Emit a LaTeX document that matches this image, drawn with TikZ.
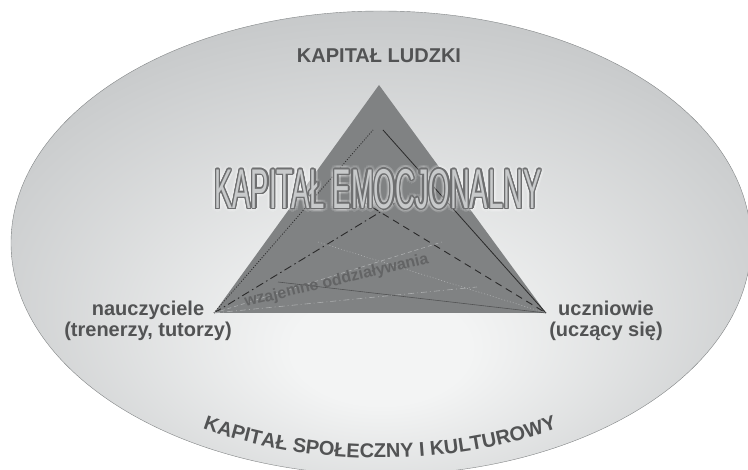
\documentclass[tikz,border=0pt]{standalone}
\usepackage{fontspec}
\setmainfont{Liberation Sans}
\usetikzlibrary{decorations.text}

\definecolor{okraj}{RGB}{163,166,168}
\definecolor{stred}{RGB}{243,244,244}
\definecolor{trojuh}{RGB}{128,130,131}
\definecolor{popis}{RGB}{82,83,84}
\definecolor{cara}{RGB}{42,42,42}
\definecolor{svetla}{RGB}{172,174,175}
\definecolor{nadpis}{RGB}{200,202,203}
\definecolor{obrys}{RGB}{110,111,112}

% světlo uprostřed elipsy
\pgfdeclareradialshading{zare}{\pgfpoint{0bp}{-13bp}}{color(0bp)=(stred); color(6bp)=(stred); color(50bp)=(okraj)}

\newcommand{\emotext}{\scalebox{0.49}[1]{KAPITAŁ EMOCJONALNY}}

\begin{document}
\begin{tikzpicture}[x=1pt, y=-1pt,
    popisek/.style={font=\bfseries\fontsize{20}{21}\selectfont, text=popis, inner sep=0pt, align=center},
    emo/.style={font=\fontsize{56}{56}\selectfont, inner sep=0pt}]
    \useasboundingbox (0,0) rectangle (748,470);

    % elipsa
    \shade[shading=zare, draw=okraj!80!black, line width=0.4] (381,243) ellipse[x radius=370, y radius=232];

    % trojúhelník
    \coordinate (apex) at (379,85);
    \coordinate (teach) at (214,313);
    \coordinate (learn) at (546,313);
    \fill[trojuh] (teach) -- (apex) -- (learn) -- cycle;

    % konce čar
    \coordinate (h1) at (373,130);
    \coordinate (h2) at (383,130);
    \coordinate (s1) at (400,200);
    \coordinate (s2) at (352,195);
    \coordinate (d1) at (442,242);
    \coordinate (d2) at (318,242);
    \coordinate (n1) at (477,287);
    \coordinate (n2) at (278,282);

    % čáry
    \draw[cara, line width=0.8, dash pattern=on 1pt off 1.6pt] (teach) -- (h1);
    \draw[cara, line width=0.8] (h2) -- (learn);
    \draw[cara, line width=0.9, dash pattern=on 8pt off 3.5pt on 1.5pt off 3.5pt] (teach) -- (s1);
    \draw[cara, line width=0.9, dash pattern=on 7pt off 5pt] (s2) -- (learn);
    \draw[svetla, line width=0.6, dash pattern=on 4pt off 3pt] (teach) -- (d1);
    \draw[svetla, line width=0.6, dash pattern=on 1pt off 2pt] (d2) -- (learn);
    \draw[svetla, line width=0.6, dash pattern=on 6pt off 3pt on 1pt off 3pt] (teach) -- (n1);
    \draw[popis, line width=0.6] (n2) -- (learn);

    \node[font=\bfseries\fontsize{16}{16}\selectfont, text=popis!90!white, inner sep=0pt, anchor=base, rotate=13.4] (vztah) at (337.5,285) {wzajemne oddziaływania};

    % nápis s obrysem
    \foreach \u in {0,30,...,330}
        \node[emo, text=white, opacity=0.12] at ([shift={(\u:4)}]378,189) {\emotext};
    \foreach \u in {0,22.5,...,337.5}
        \node[emo, text=obrys] at ([shift={(\u:1.3)}]378,189) {\emotext};
    \node[emo, text=nadpis] (emoce) at (378,189) {\emotext};

    % popisky
    \node[popisek, anchor=base] (ludzki) at (379,63) {KAPITAŁ LUDZKI};
    \node[popisek, anchor=north] (ucitele) at (148,300.5) {nauczyciele\\(trenerzy, tutorzy)};
    \node[popisek, anchor=north] (zaci) at (606,300.5) {uczniowie\\(uczący się)};

    \path[decorate, decoration={text along path, text align=center, text color=popis,
        text={|\bfseries\fontsize{20}{20}\selectfont|KAPITAŁ SPOŁECZNY I KULTUROWY}}]
        (179.2,419.1) arc[start angle=125, end angle=55, x radius=350, y radius=215];
\end{tikzpicture}
\end{document}
